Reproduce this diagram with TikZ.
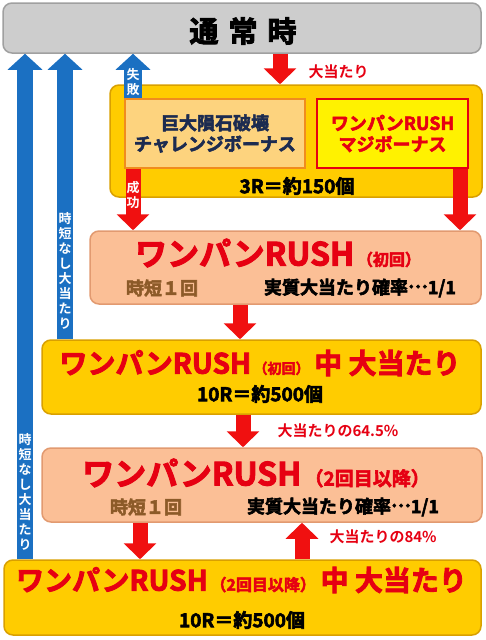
\documentclass[tikz,border=0pt]{standalone}
\usepackage{fontspec}
\setmainfont{Noto Sans CJK JP}[BoldFont={Noto Sans CJK JP Bold}]
\newfontfamily\heavy{Noto Sans CJK JP Bold}[FakeBold=3]
\usetikzlibrary{arrows.meta,positioning}

\definecolor{gold}{HTML}{FFCC00}
\definecolor{goldedge}{HTML}{D9A000}
\definecolor{peach}{HTML}{FBBF96}
\definecolor{peachedge}{HTML}{E29A70}
\definecolor{greybar}{HTML}{CDCDCD}
\definecolor{greyedge}{HTML}{A0A0A0}
\definecolor{chalfill}{HTML}{FDD37E}
\definecolor{chaledge}{HTML}{F08C1E}
\definecolor{majifill}{HTML}{FFF200}
\definecolor{rushred}{HTML}{E60012}
\definecolor{arrred}{HTML}{F01010}
\definecolor{arrblue}{HTML}{1B70C2}
\definecolor{navy}{HTML}{1C2B50}
\definecolor{jitan}{HTML}{8C5A28}
\newcommand{\fsz}[1]{\fontsize{#1}{#1}\selectfont}
\newcommand{\jpdots}{\raisebox{.33em}{…}}

\begin{document}
\begin{tikzpicture}[x=1pt,y=-1pt,
  box/.style={rounded corners=9pt,line width=1.5pt,inner sep=0pt},
  yellowbox/.style={box,draw=goldedge,fill=gold},
  peachbox/.style={box,draw=peachedge,fill=peach},
  bluearr/.style={line width=16pt,draw=arrblue,-{Triangle[width=34pt,length=16pt]}},
  redarr/.style={line width=15pt,draw=arrred,-{Triangle[width=32pt,length=16pt]}},
  title/.style={text=rushred,font=\heavy\fsz{32},inner sep=0pt},
  sub/.style={font=\heavy\fsz{18},inner sep=0pt},
  lbl/.style={text=rushred,font=\bfseries\fsz{15},inner sep=0pt},
  shafttxt/.style={text=white,font=\bfseries\fontsize{13}{15}\selectfont,align=center,inner sep=0pt}]
\useasboundingbox (0,0) rectangle (485,640);

% boxes
\node[box,draw=greyedge,fill=greybar,minimum width=478pt,minimum height=50pt] (normal) at (242,28) {};
\node[font=\heavy\fsz{29}] (normaltxt) at (243,31) {通\hspace{10pt}常\hspace{10pt}時};

\node[yellowbox,minimum width=372pt,minimum height=112pt] (bonus) at (296,141) {};
\node[draw=chaledge,fill=chalfill,line width=1.2pt,minimum width=180pt,minimum height=69pt,
  text=navy,font=\heavy\fontsize{18}{21}\selectfont,align=center] (chal) at (215,133.5) {巨大隕石破壊\\チャレンジボーナス};
\node[draw=rushred,fill=majifill,line width=1.2pt,minimum width=151pt,minimum height=69pt,
  text=rushred,font=\heavy\fontsize{18}{21}\selectfont,align=center] (maji) at (392.5,133.5) {ワンパンRUSH\\マジボーナス};
\node[sub,font=\heavy\fsz{19}] (bonusrnd) at (297,186) {3R＝約150個};

\node[peachbox,minimum width=391pt,minimum height=73pt] (rush1) at (285.5,267.5) {};
\node[title] (rush1t) at (278,253) {ワンパンRUSH{\fsz{16}\,（初回）}};
\node[sub,text=jitan] (rush1j) at (162,288) {時短１回};
\node[sub] (rush1p) at (360,288) {実質大当たり確率\jpdots 1/1};

\node[yellowbox,minimum width=439pt,minimum height=74pt] (big1) at (261.5,377) {};
\node[title,font=\heavy\fsz{28}] (big1t) at (260,363) {ワンパンRUSH{\fsz{14}\,（初回）}\,中 大当たり};
\node[sub,font=\heavy\fsz{19}] (big1r) at (260,394) {10R＝約500個};

\node[peachbox,minimum width=440pt,minimum height=74pt] (rush2) at (262,485) {};
\node[title] (rush2t) at (256,473) {ワンパンRUSH{\fsz{19}\,（2回目以降）}};
\node[sub,text=jitan] (rush2j) at (146,507) {時短１回};
\node[sub] (rush2p) at (343,507) {実質大当たり確率\jpdots 1/1};

\node[yellowbox,minimum width=477pt,minimum height=75pt] (big2) at (242.5,597.5) {};
\node[title,font=\heavy\fsz{28}] (big2t) at (241.5,580) {ワンパンRUSH{\fsz{16}\,（2回目以降）}\,中 大当たり};
\node[sub,font=\heavy\fsz{19}] (big2r) at (242,620) {10R＝約500個};

% arrows
\coordinate (ba) at (25,0);
\coordinate (bb) at (65,0);
\coordinate (fail) at (133,0);
\coordinate (hit) at (280,0);
\coordinate (maj) at (460,0);
\coordinate (c1) at (240,0);
\coordinate (c2) at (243,0);
\coordinate (c3) at (140,0);
\coordinate (c4) at (302,0);

\draw[bluearr] (big2.north -| ba) -- node[shafttxt,pos=0.134] {時\\短\\な\\し\\大\\当\\た\\り} (normal.south -| ba);
\draw[bluearr] (big1.north -| bb) -- node[shafttxt,pos=0.24] {時\\短\\な\\し\\大\\当\\た\\り} (normal.south -| bb);
\draw[bluearr,line width=18pt] (chal.north -| fail) -- node[shafttxt,pos=0.37] {失\\敗} (normal.south -| fail);
\draw[redarr] (normal.south -| hit) -- node[lbl,right=21pt,yshift=-3pt] {大当たり} (bonus.north -| hit);
\draw[redarr] (chal.south -| fail) -- node[shafttxt,pos=0.43] {成\\功} (rush1.north -| fail);
\draw[redarr] (maji.south -| maj) -- (rush1.north -| maj);
\draw[redarr] (rush1.south -| c1) -- (big1.north -| c1);
\draw[redarr] (big1.south -| c2) -- node[lbl,right=27pt] {大当たりの64.5\%} (rush2.north -| c2);
\draw[redarr] (rush2.south -| c3) -- (big2.north -| c3);
\draw[redarr] (big2.north -| c4) -- node[lbl,right=20pt,yshift=4pt] {大当たりの84\%} (rush2.south -| c4);
\end{tikzpicture}
\end{document}
